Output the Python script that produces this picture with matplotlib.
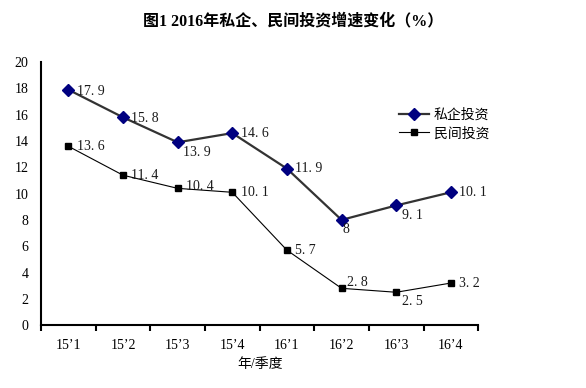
import matplotlib.pyplot as plt

plt.rcParams['font.family'] = ['Liberation Serif', 'Noto Sans CJK SC', 'DejaVu Sans']

# 数据
quarters = ['15’1', '15’2', '15’3', '15’4', '16’1', '16’2', '16’3', '16’4']
siqi = [17.9, 15.8, 13.9, 14.6, 11.9, 8, 9.1, 10.1]
minjian = [13.6, 11.4, 10.4, 10.1, 5.7, 2.8, 2.5, 3.2]

# 标签偏移 (点)
siqi_off = [(6, -1), (6, -1), (4, -7), (6, 0), (6, 0), (1, -7), (4, -7), (6, 0)]
minjian_off = [(6, 0), (6, 0), (6, 1), (6, 0), (6, 0), (4, 4), (4, -7), (6, 0)]

fig = plt.figure(figsize=(5.86, 3.88), dpi=100)
ax = fig.add_axes([0.07, 0.162, 0.746, 0.678])

x = [i + 0.5 for i in range(len(quarters))]
ax.plot(x, siqi, color='#333333', lw=1.6, marker='D', ms=6, mfc='#000080', mec='#000080',
        label='私企投资', zorder=3)
ax.plot(x, minjian, color='black', lw=0.8, marker='s', ms=4.5, mfc='black', mec='black',
        label='民间投资', zorder=3)

for xi, v, off in zip(x, siqi, siqi_off):
    ax.annotate(f'{v:g}'.replace('.', '. '), (xi, v), xytext=off, textcoords='offset points',
                fontsize=10, va='center', color='#1a1a1a')
for xi, v, off in zip(x, minjian, minjian_off):
    ax.annotate(f'{v:g}'.replace('.', '. '), (xi, v), xytext=off, textcoords='offset points',
                fontsize=10, va='center', color='#1a1a1a')

ax.set_xlim(0, 8)
ax.set_ylim(0, 20)
ax.set_yticks(range(0, 21, 2))
ax.set_xticks(range(0, 9))
ax.set_xticklabels([])
ax.set_xticks(x, minor=True)
ax.set_xticklabels(quarters, minor=True)
ax.tick_params(axis='x', which='major', direction='out', length=4, width=1.5)
ax.tick_params(axis='x', which='minor', length=0, pad=10, labelsize=10)
ax.tick_params(axis='y', direction='out', length=0, pad=9, labelsize=10)
for s in ['top', 'right']:
    ax.spines[s].set_visible(False)
for s in ['left', 'bottom']:
    ax.spines[s].set_linewidth(1.5)

ax.set_xlabel('年/季度', fontsize=10, labelpad=4)
fig.suptitle('图1 2016年私企、民间投资增速变化（%）', fontsize=11.5, fontweight='bold', y=0.965)

ax.legend(loc='upper left', bbox_to_anchor=(0.79, 0.87), frameon=False, fontsize=10,
          handlelength=2.2, handletextpad=0.3, labelspacing=0.35)

plt.savefig('out.png')
